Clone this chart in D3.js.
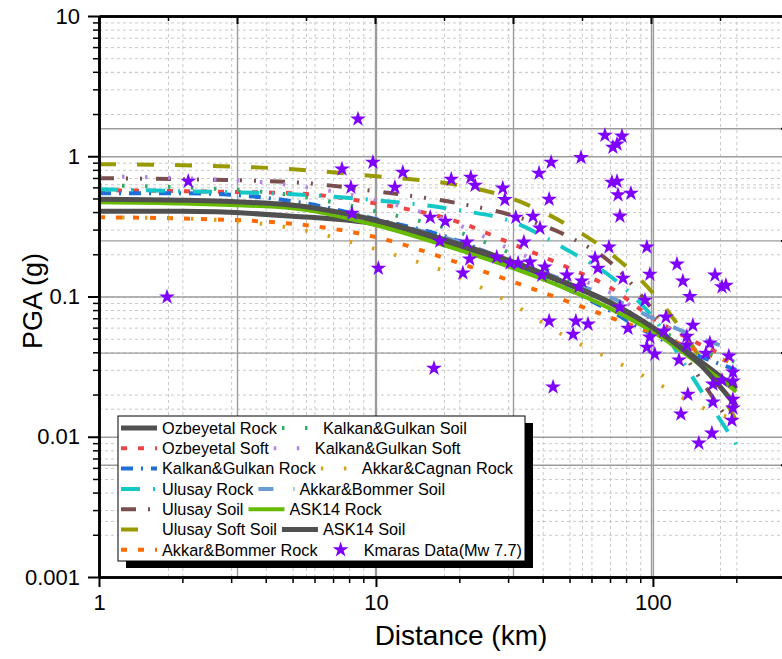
<!DOCTYPE html>
<meta charset="utf-8">
<script src="https://d3js.org/d3.v7.min.js"></script>
<style>
  body { margin: 0; background: #fff; }
  text { font-family: 'Liberation Sans', Arial, sans-serif; }
</style>
<body>
<div id="chart"></div>
<script>

// distances (km) where the model curves were read
var dist = [1, 2, 5, 10, 20, 30, 50, 70, 100, 150, 200];

// PGA (g) of each model at those distances
var ozRock  = [0.405, 0.405, 0.374, 0.328, 0.228, 0.176, 0.121, 0.090, 0.0595, 0.034, 0.022];
var ozSoft  = [0.573, 0.563, 0.545, 0.46, 0.338, 0.244, 0.159, 0.116, 0.070, 0.045, 0.035];
var kgRock  = [0.545, 0.545, 0.478, 0.356, 0.248, 0.176, 0.111, 0.079, 0.053, 0.037, 0.030];
var ulRock  = [0.582, 0.563, 0.536, 0.486, 0.412, 0.35, 0.21, 0.14, 0.071, 0.021, 0.0088];
var ulSoil  = [0.697, 0.686, 0.653, 0.563, 0.46, 0.386, 0.265, 0.176, 0.08, 0.025, 0.0108];
var ulSoft  = [0.877, 0.863, 0.808, 0.72, 0.621, 0.51, 0.317, 0.204, 0.106, 0.035, 0.013];
var abRock  = [0.367, 0.36, 0.33, 0.265, 0.173, 0.131, 0.091, 0.071, 0.055, 0.040, 0.033];
var kgSoil  = [0.62, 0.60, 0.527, 0.405, 0.287, 0.207, 0.13, 0.094, 0.0615, 0.041, 0.034];
var kgSoft  = [0.72, 0.697, 0.62, 0.486, 0.322, 0.221, 0.142, 0.107, 0.068, 0.047, 0.038];
var acRock  = [0.367, 0.36, 0.307, 0.217, 0.137, 0.092, 0.05, 0.036, 0.025, 0.0162, 0.0132];
var abSoil  = [0.486, 0.478, 0.448, 0.35, 0.244, 0.182, 0.127, 0.099, 0.07, 0.05, 0.041];
var askRock = [0.47, 0.46, 0.426, 0.322, 0.214, 0.164, 0.111, 0.082, 0.056, 0.032, 0.021];
var askSoil = [0.494, 0.486, 0.448, 0.35, 0.236, 0.182, 0.122, 0.091, 0.06, 0.032, 0.0165];

// recorded data, Kahramanmaras Mw 7.7
var kmDist = [1.76, 2.10, 7.54, 8.12, 8.19, 8.61, 9.75, 10.2, 11.7, 12.5, 15.7, 16.2, 17.0, 17.8, 18.7,
  20.6, 21.3, 21.8, 22.0, 22.8, 27.3, 28.7, 29.2, 32.0, 32.6, 30.5, 34.2, 36.0, 36.9, 38.8, 39.1, 40.7,
  42.2, 42.9, 42.2, 43.6, 48.9, 51.5, 52.7, 54.1, 55.4, 55.0, 58.3, 61.8, 63.3, 67.1, 69.4, 71.1, 71.7,
  74.2, 74.2, 74.8, 76.0, 77.3, 78.0, 76.0, 81.3, 83.3, 93.6, 95.1, 97.5, 97.5, 95.1, 101.6, 111.4, 109.6,
  122.1, 124.2, 126.2, 128.3, 132.6, 132.6, 133.7, 136.0, 139.4, 146.5, 155.3, 160.6, 163.3, 164.7, 164.7,
  167.5, 177.6, 183.5, 177.6, 188.0, 194.5, 194.5, 194.5, 194.5, 192.8, 39.7];
var kmPga = [0.099, 0.663, 0.81, 0.60, 0.392, 1.84, 0.906, 0.159, 0.60, 0.769, 0.367, 0.0308, 0.248, 0.344, 0.686,
  0.147, 0.244, 0.185, 0.708, 0.621, 0.191, 0.592, 0.49, 0.367, 0.173, 0.173, 0.244, 0.176, 0.373, 0.757, 0.307, 0.162,
  0.494, 0.906, 0.0667, 0.0226, 0.142, 0.0538, 0.0667, 0.118, 0.129, 0.98, 0.0635, 0.188, 0.159, 1.41, 0.225, 0.653, 1.16,
  1.22, 0.663, 0.53, 0.374, 1.39, 0.135, 0.084, 0.0594, 0.545, 0.094, 0.225, 0.144, 0.0513, 0.0435, 0.0388, 0.0712, 0.0566,
  0.170, 0.0352, 0.0145, 0.129, 0.0521, 0.0450, 0.0201, 0.100, 0.0624, 0.0090, 0.0394, 0.0465, 0.0106, 0.0237, 0.0177,
  0.142, 0.117, 0.120, 0.0253, 0.0376, 0.0249, 0.0289, 0.0185, 0.0160, 0.0131, 0.142];

// ticks
var xTicks = [1, 10, 100];
var xTickLabels = ["1", "10", "100"];
var xMinor = [2, 3, 4, 5, 6, 7, 8, 9, 20, 30, 40, 50, 60, 70, 80, 90, 200, 300];
var yTicks = [0.001, 0.01, 0.1, 1, 10];
var yTickLabels = ["0.001", "0.01", "0.1", "1", "10"];
var yMinor = [];
[0.001, 0.01, 0.1, 1].forEach(function(b) {
  [2, 3, 4, 5, 6, 7, 8, 9].forEach(function(m) { yMinor.push(+(b * m).toPrecision(2)); });
});
// top/right axes are plain 5-division axes
var divMajor = [0, 1, 2, 3, 4, 5];
var divMinor = [0.5, 1.5, 2.5, 3.5, 4.5];

var names = ["Ozbeyetal Rock", "Ozbeyetal Soft", "Kalkan&Gulkan Rock", "Ulusay Rock", "Ulusay Soil",
  "Ulusay Soft Soil", "Akkar&Bommer Rock", "Kalkan&Gulkan Soil", "Kalkan&Gulkan Soft", "Akkar&Cagnan Rock",
  "Akkar&Bommer Soil", "ASK14 Rock", "ASK14 Soil"];
var values = [ozRock, ozSoft, kgRock, ulRock, ulSoil, ulSoft, abRock, kgSoil, kgSoft, acRock, abSoil, askRock, askSoil];

// line styles, in the same order as names
var styles = [
  {color: "#505050", w: 5,   dash: null},
  {color: "#EE4646", w: 4,   dash: "6,11"},
  {color: "#1F6FD8", w: 4,   dash: "12,8,2,8"},
  {color: "#14C8C8", w: 4,   dash: "19,13,2,13"},
  {color: "#7A4E4E", w: 4,   dash: "15,12,2,12,2,14"},
  {color: "#999900", w: 4,   dash: "17,21"},
  {color: "#FF6A00", w: 4,   dash: "6,11"},
  {color: "#2EAA6A", w: 4,   dash: "2.5,20.5"},
  {color: "#B385E8", w: 4,   dash: "2.5,20.5"},
  {color: "#D9A21B", w: 4,   dash: "2.5,20.5"},
  {color: "#6A9BD1", w: 4,   dash: "15,20"},
  {color: "#66BB00", w: 4,   dash: null},
  {color: "#505050", w: 5,   dash: null}
];

var margin = {top: 16, left: 99},
    width = 690,
    height = 561;

var svg = d3.select("#chart").append("svg")
    .attr("width", 782)
    .attr("height", 659);

var g = svg.append("g")
    .attr("transform", "translate(" + margin.left + "," + margin.top + ")");

var x = d3.scaleLog().domain([1, 310]).range([0, width]);
var y = d3.scaleLog().domain([0.001, 10]).range([height, 0]);
var xTop = d3.scaleLinear().domain([0, 5]).range([0, width]);
var yRight = d3.scaleLinear().domain([0, 5]).range([0, height]);

// gridlines
function grid(axis, solid) {
  var gg = g.append("g").call(axis.tickFormat("").tickSizeOuter(0));
  gg.select(".domain").remove();
  gg.selectAll("line")
    .attr("stroke", solid ? "#9c9c9c" : "#c9c9c9")
    .attr("stroke-width", solid ? 1.4 : 1)
    .attr("stroke-dasharray", solid ? null : "3,3");
}
grid(d3.axisBottom(x).tickValues(xMinor).tickSize(height), false);
grid(d3.axisRight(y).tickValues(yMinor).tickSize(width), false);
grid(d3.axisBottom(xTop).tickValues(divMinor).tickSize(height), false);
grid(d3.axisRight(yRight).tickValues(divMinor).tickSize(width), false);
grid(d3.axisBottom(x).tickValues(xTicks).tickSize(height), true);
grid(d3.axisRight(y).tickValues(yTicks).tickSize(width), true);
grid(d3.axisBottom(xTop).tickValues([1, 2, 3, 4]).tickSize(height), true);
grid(d3.axisRight(yRight).tickValues([1, 2, 3, 4]).tickSize(width), true);

// model curves
var line = d3.line()
    .x(function(d, i) { return x(dist[i]); })
    .y(function(d) { return y(d); })
    .curve(d3.curveMonotoneX);

values.forEach(function(v, i) {
  g.append("path")
    .datum(v)
    .attr("d", line)
    .attr("fill", "none")
    .attr("stroke", styles[i].color)
    .attr("stroke-width", styles[i].w)
    .attr("stroke-dasharray", styles[i].dash);
});

// data points
var star = d3.symbol().type(d3.symbolStar).size(78);
g.selectAll(".km")
  .data(kmDist)
  .enter().append("path")
    .attr("class", "km")
    .attr("d", star)
    .attr("transform", function(d, i) { return "translate(" + x(d) + "," + y(kmPga[i]) + ")"; })
    .attr("fill", "#8000FF");

// axes
function styleAxis(sel, w) {
  sel.select(".domain").attr("stroke", "#000").attr("stroke-width", 2.5);
  sel.selectAll("line").attr("stroke", "#000").attr("stroke-width", w || 2);
}

var xAxis = g.append("g")
    .attr("transform", "translate(0," + height + ")")
    .call(d3.axisBottom(x).tickValues(xTicks).tickSize(10).tickSizeOuter(0).tickPadding(7)
      .tickFormat(function(d, i) { return xTickLabels[i]; }));
styleAxis(xAxis);
xAxis.selectAll("text").attr("font-size", "22px").attr("fill", "#000");
var xAxisMinor = g.append("g")
    .attr("transform", "translate(0," + height + ")")
    .call(d3.axisBottom(x).tickValues(xMinor).tickSize(6).tickSizeOuter(0).tickFormat(""));
styleAxis(xAxisMinor, 1.5);

var yAxis = g.append("g")
    .call(d3.axisLeft(y).tickValues(yTicks).tickSize(11).tickSizeOuter(0).tickPadding(8)
      .tickFormat(function(d, i) { return yTickLabels[i]; }));
styleAxis(yAxis);
yAxis.selectAll("text").attr("font-size", "22px").attr("fill", "#000");
var yAxisMinor = g.append("g")
    .call(d3.axisLeft(y).tickValues(yMinor).tickSize(6).tickSizeOuter(0).tickFormat(""));
styleAxis(yAxisMinor, 1.5);

var topAxis = g.append("g")
    .call(d3.axisTop(xTop).tickValues(divMajor).tickSize(-8).tickSizeOuter(0).tickFormat(""));
styleAxis(topAxis);
var topMinor = g.append("g")
    .call(d3.axisTop(xTop).tickValues(divMinor).tickSize(-5).tickSizeOuter(0).tickFormat(""));
styleAxis(topMinor, 1.5);

var rightAxis = g.append("g")
    .attr("transform", "translate(" + width + ",0)")
    .call(d3.axisRight(yRight).tickValues(divMajor).tickSize(-8).tickSizeOuter(0).tickFormat(""));
styleAxis(rightAxis);
var rightMinor = g.append("g")
    .attr("transform", "translate(" + width + ",0)")
    .call(d3.axisRight(yRight).tickValues(divMinor).tickSize(-5).tickSizeOuter(0).tickFormat(""));
styleAxis(rightMinor, 1.5);

// axis titles
svg.append("text")
    .attr("x", 461)
    .attr("y", 645)
    .attr("text-anchor", "middle")
    .attr("font-size", "28px")
    .text("Distance (km)");

svg.append("text")
    .attr("transform", "translate(42,301) rotate(-90)")
    .attr("text-anchor", "middle")
    .attr("font-size", "27px")
    .text("PGA (g)");

// legend
var leg = svg.append("g").attr("transform", "translate(118,416)");
leg.append("rect").attr("x", 8).attr("y", 7).attr("width", 407).attr("height", 145).attr("fill", "#000");
leg.append("rect").attr("x", 0).attr("y", 0).attr("width", 407).attr("height", 145)
    .attr("fill", "#fff").attr("stroke", "#000").attr("stroke-width", 1);

var legItems = names.map(function(n, i) { return {name: n, style: styles[i]}; });
legItems.push({name: "Kmaras Data(Mw 7.7)", star: true});

function sample(gr, item, sx, sy) {
  if (item.star) {
    gr.append("path").attr("d", star).attr("fill", "#8000FF")
      .attr("transform", "translate(" + (sx + 18) + "," + sy + ")");
  } else {
    gr.append("line")
      .attr("x1", sx).attr("x2", sx + 36).attr("y1", sy).attr("y2", sy)
      .attr("stroke", item.style.color)
      .attr("stroke-width", item.style.w)
      .attr("stroke-dasharray", item.style.dash);
  }
}

for (var r = 0; r < 7; r++) {
  var ry = 12 + r * 20.3;
  var left = legItems[r], right = legItems[r + 7];
  sample(leg, left, 3, ry);
  var t = leg.append("text").attr("x", 44).attr("y", ry).attr("dy", "0.36em")
      .attr("font-size", "16.3px").text(left.name);
  var sx = 44 + t.node().getComputedTextLength() + 5;
  sample(leg, right, sx, ry);
  leg.append("text").attr("x", sx + 41).attr("y", ry).attr("dy", "0.36em")
      .attr("font-size", "16.3px").text(right.name);
}

</script>
</body>
